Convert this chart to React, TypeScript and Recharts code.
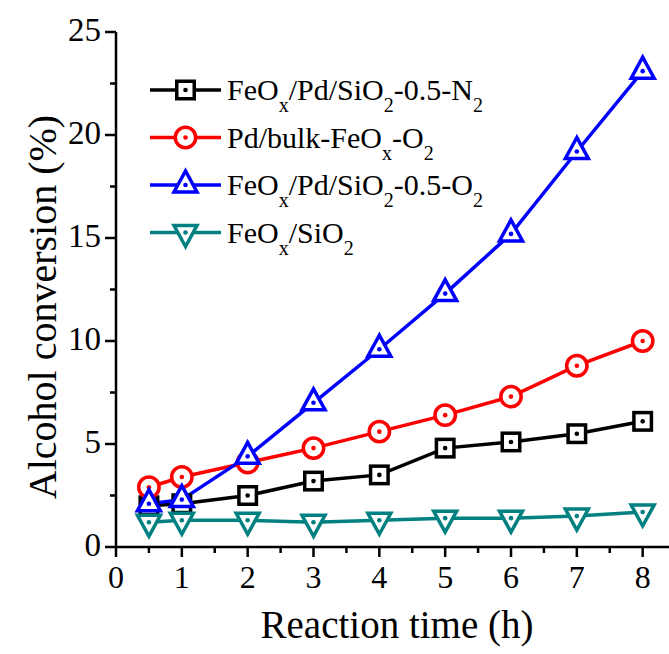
import React from "react"
import { LineChart, Line, XAxis, YAxis } from "recharts"

const hours = [0.5, 1, 2, 3, 4, 5, 6, 7, 8]
const n2Conversion = [2.0, 2.1, 2.5, 3.2, 3.5, 4.8, 5.1, 5.5, 6.1]
const bulkConversion = [2.9, 3.4, 4.1, 4.8, 5.6, 6.4, 7.3, 8.8, 10.0]
const o2Conversion = [2.1, 2.3, 4.4, 7.0, 9.6, 12.3, 15.2, 19.2, 23.1]
const silicaConversion = [1.2, 1.3, 1.3, 1.2, 1.3, 1.4, 1.4, 1.5, 1.7]

const xTicks = [0, 0.5, 1, 1.5, 2, 2.5, 3, 3.5, 4, 4.5, 5, 5.5, 6, 6.5, 7, 7.5, 8]
const yTicks = [0, 2.5, 5, 7.5, 10, 12.5, 15, 17.5, 20, 22.5, 25]

// [normal text, subscript] pairs
const n2Label = [["FeO", "x"], ["/Pd/SiO", "2"], ["-0.5-N", "2"]]
const bulkLabel = [["Pd/bulk-FeO", "x"], ["-O", "2"]]
const o2Label = [["FeO", "x"], ["/Pd/SiO", "2"], ["-0.5-O", "2"]]
const silicaLabel = [["FeO", "x"], ["/SiO", "2"]]

const FONT = "'Liberation Serif', 'Times New Roman', serif"

type Shape = "square" | "circle" | "up" | "down"

const series: { key: string; color: string; shape: Shape; label: string[][] }[] = [
  { key: "n2", color: "#000000", shape: "square", label: n2Label },
  { key: "bulk", color: "#ff0000", shape: "circle", label: bulkLabel },
  { key: "o2", color: "#0000ff", shape: "up", label: o2Label },
  { key: "silica", color: "#008080", shape: "down", label: silicaLabel },
]

const rows = hours.map((h, i) => ({
  h,
  n2: n2Conversion[i],
  bulk: bulkConversion[i],
  o2: o2Conversion[i],
  silica: silicaConversion[i],
}))

function Marker({ shape, color, cx, cy }: { shape: Shape; color: string; cx: number; cy: number }) {
  const common = { fill: "#fff", stroke: color, strokeWidth: 3.5, strokeLinejoin: "miter" as const }
  let body
  if (shape === "square") {
    body = <rect x={cx - 8.75} y={cy - 8.75} width={17.5} height={17.5} {...common} />
  } else if (shape === "circle") {
    body = <circle cx={cx} cy={cy} r={10.2} {...common} />
  } else if (shape === "up") {
    body = <polygon points={`${cx},${cy - 14} ${cx - 11.5},${cy + 7} ${cx + 11.5},${cy + 7}`} {...common} />
  } else {
    body = <polygon points={`${cx},${cy + 14} ${cx - 11.5},${cy - 7} ${cx + 11.5},${cy - 7}`} {...common} />
  }
  return (
    <g>
      {body}
      <circle cx={cx} cy={cy} r={2.3} fill={color} />
    </g>
  )
}

function BottomTick(props: any) {
  const { x, y, payload } = props
  const major = Number.isInteger(payload.value)
  return (
    <g>
      <line x1={x} y1={y} x2={x} y2={y + (major ? 10 : 6)} stroke="#000" strokeWidth={2.5} />
      {major && (
        <text x={x} y={y + 41} textAnchor="middle" fontSize={32} fontFamily={FONT} fill="#000">
          {payload.value}
        </text>
      )}
    </g>
  )
}

function TopTick(props: any) {
  const { x, y, payload } = props
  const major = Number.isInteger(payload.value)
  return <line x1={x} y1={y} x2={x} y2={y + (major ? 7 : 4)} stroke="#000" strokeWidth={2.5} />
}

function LeftTick(props: any) {
  const { x, y, payload } = props
  const major = payload.value % 5 === 0
  return (
    <g>
      <line x1={x} y1={y} x2={x - (major ? 11 : 6)} y2={y} stroke="#000" strokeWidth={2.5} />
      {major && (
        <text x={x - 15} y={y + 9} textAnchor="end" fontSize={33} fontFamily={FONT} fill="#000">
          {payload.value}
        </text>
      )}
    </g>
  )
}

function LegendBox() {
  return (
    <svg width={669} height={654} style={{ position: "absolute", left: 0, top: 0, pointerEvents: "none" }}>
      {series.map((s, i) => {
        const y = 90 + i * 47.5
        return (
          <g key={s.key}>
            <line x1={150} y1={y} x2={221} y2={y} stroke={s.color} strokeWidth={3.5} />
            <Marker shape={s.shape} color={s.color} cx={185.5} cy={y} />
            <text x={227} y={y + 10} fontSize={30} fontFamily={FONT} fill="#000">
              {s.label.map(([main, sub], j) => (
                <React.Fragment key={j}>
                  <tspan dy={j === 0 ? 0 : -12}>{main}</tspan>
                  <tspan dy={12} fontSize={20}>
                    {sub}
                  </tspan>
                </React.Fragment>
              ))}
            </text>
          </g>
        )
      })}
    </svg>
  )
}

export default function App() {
  return (
    <div style={{ position: "absolute", left: 0, top: 0, width: 669, height: 654, background: "#fff" }}>
      <LineChart width={669} height={654} data={rows} margin={{ top: 32, right: 0, bottom: 0, left: 0 }}>
        <XAxis
          xAxisId="top"
          orientation="top"
          dataKey="h"
          type="number"
          domain={[0, 8.4]}
          ticks={xTicks}
          height={0}
          tickSize={0}
          tickMargin={0}
          tickLine={false}
          tick={<TopTick />}
          axisLine={{ stroke: "#000", strokeWidth: 2.5 }}
          allowDataOverflow
        />
        <XAxis
          xAxisId={0}
          dataKey="h"
          type="number"
          domain={[0, 8.4]}
          ticks={xTicks}
          height={107}
          tickSize={0}
          tickMargin={0}
          tickLine={false}
          tick={<BottomTick />}
          axisLine={{ stroke: "#000", strokeWidth: 2.5 }}
          allowDataOverflow
          label={{
            content: () => (
              <text x={397} y={638} textAnchor="middle" fontSize={39} fontFamily={FONT} fill="#000">
                Reaction time (h)
              </text>
            ),
          }}
        />
        <YAxis
          yAxisId={0}
          type="number"
          domain={[0, 25]}
          ticks={yTicks}
          width={116}
          tickSize={0}
          tickMargin={0}
          tickLine={false}
          tick={<LeftTick />}
          axisLine={{ stroke: "#000", strokeWidth: 2.5 }}
          label={{
            content: () => (
              <text
                x={56}
                y={307}
                transform="rotate(-90 56 307)"
                textAnchor="middle"
                fontSize={40}
                fontFamily={FONT}
                fill="#000"
              >
                Alcohol conversion (%)
              </text>
            ),
          }}
        />
        {series.map((s) => (
          <Line
            key={s.key}
            xAxisId={0}
            yAxisId={0}
            dataKey={s.key}
            stroke={s.color}
            strokeWidth={3.5}
            isAnimationActive={false}
            activeDot={false}
            dot={(p: any) => <Marker key={`${s.key}-${p.index}`} shape={s.shape} color={s.color} cx={p.cx} cy={p.cy} />}
          />
        ))}
      </LineChart>
      <LegendBox />
    </div>
  )
}
